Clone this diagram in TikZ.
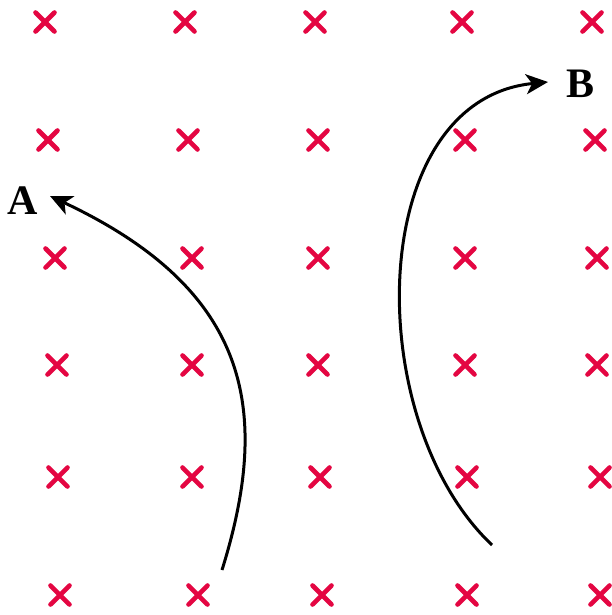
\documentclass[tikz,border=0pt]{standalone}
\usepackage{fontspec}
\setmainfont{Liberation Serif}
\usetikzlibrary{arrows.meta}
\definecolor{crossred}{RGB}{228,6,66}
\tikzset{
  crossmark/.style={draw=crossred,line width=4.6pt,line cap=round},
  pathline/.style={draw=black,line width=3pt,-{Stealth[length=22pt,width=20pt,inset=6pt]}},
  lbl/.style={font=\fontsize{42}{42}\selectfont\bfseries,inner sep=0pt}
}
\begin{document}
\begin{tikzpicture}[x=1pt,y=-1pt]
\useasboundingbox (0,0) rectangle (612,615);
\fill[white] (0,0) rectangle (612,615);
% crosses: row y, list of x
\foreach \yy/\xa/\xb/\xc/\xd/\xe in {
  22/45/185/315/462/592,
  140/48/188/318/465/595,
  258/55/192/318/465/597,
  365/57/192/318/465/597,
  477/58/192/320/467/600,
  595/60/198/322/467/600}{
  \foreach \xx in {\xa,\xb,\xc,\xd,\xe}{
    \draw[crossmark] (\xx-9.5,\yy-9.5) -- (\xx+9.5,\yy+9.5);
    \draw[crossmark] (\xx-9.5,\yy+9.5) -- (\xx+9.5,\yy-9.5);
  }
}
\node[lbl] (A) at (23,201) {A};
\node[lbl] (B) at (580,84) {B};
\coordinate (a0) at (222,570);
\coordinate (a1) at (50,196);
\coordinate (b0) at (492,545);
\coordinate (b1) at (548,82);
\draw[pathline] (a0) .. controls (272,410) and (250,290) .. (a1);
\draw[pathline] (b0) .. controls (360,420) and (365,100) .. (b1);
\end{tikzpicture}
\end{document}
